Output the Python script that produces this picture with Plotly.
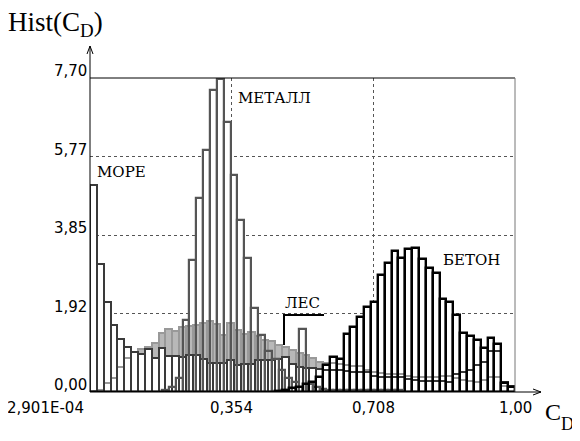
import numpy as np
import plotly.graph_objects as go

# ---------------- data ----------------
N_BINS = 62
CD_MAX = 1.06  # right end of the C_D axis

more = [5.07, 3.14, 2.20, 1.64, 1.30, 1.10, 0.98, 0.92, 1.05, 0.83,
        1.08, 0.88, 0.88, 0.86, 0.90, 0.90, 0.82, 0.72, 0.72, 0.72,
        0.78, 0.66, 0.68, 0.68, 0.78, 0.78, 0.78, 0.80, 0.85, 0.68,
        0.62, 0.60, 0.58, 0.56, 0.55, 0.55, 0.55, 0.52, 0.50, 0.50,
        0.48, 0.40, 0.37, 0.37, 0.37, 0.37, 0.32, 0.30, 0.28, 0.27,
        0.28, 0.27, 0.25, 0.45, 0.48, 0.55, 0.65, 0.73, 1.00, 1.00,
        0.25, 0.15]

les = [0.02, 0.05, 0.22, 0.34, 0.61, 0.83, 0.98, 1.05, 1.10, 1.20,
       1.45, 1.55, 1.50, 1.60, 1.63, 1.65, 1.70, 1.74, 1.66, 1.40,
       1.68, 1.52, 1.42, 1.48, 1.38, 1.28, 1.25, 1.15, 1.10, 1.03,
       0.95, 0.90, 0.83, 0.74, 0.71, 0.70, 0.68, 0.65, 0.63, 0.63,
       0.55, 0.50, 0.47, 0.45, 0.45, 0.43, 0.40, 0.38, 0.37, 0.37,
       0.38, 0.40, 0.40, 0.35, 0.30, 0.28, 0.25, 0.30, 0.37, 0.37,
       0.15, 0.15]

metall = [0, 0, 0, 0, 0, 0, 0, 0, 0, 0,
          0.05, 0.12, 0.35, 1.76, 3.24, 4.75, 5.93, 7.40, 7.67, 6.62,
          5.32, 4.22, 3.28, 2.07, 1.40, 1.00, 0.80, 0.55, 0.35, 0.25,
          1.55, 0.20, 0.12, 0.08, 0.06, 0.05, 0.05, 0.05, 0.05, 0.05,
          0.05, 0.05, 0.05, 0.05, 0.05, 0, 0, 0, 0, 0,
          0, 0, 0, 0, 0, 0, 0, 0, 0, 0,
          0, 0]

beton = [0, 0, 0, 0, 0, 0, 0, 0, 0, 0,
         0, 0, 0, 0, 0, 0, 0, 0, 0, 0,
         0, 0, 0, 0, 0, 0, 0, 0.03, 0.05, 0.10,
         0.12, 0.20, 0.25, 0.37, 0.65, 0.85, 0.80, 1.42, 1.59, 1.84,
         2.08, 2.20, 2.87, 3.16, 3.46, 3.28, 3.50, 3.53, 3.26, 3.04,
         2.92, 2.28, 2.20, 1.89, 1.45, 1.37, 1.27, 1.08, 1.32, 1.18,
         0.22, 0.12]

y_tick_vals = [0.00, 1.92, 3.85, 5.77, 7.70]
y_tick_text = ["0,00", "1,92", "3,85", "5,77", "7,70"]
x_tick_vals = [0.00029, 0.354, 0.708, CD_MAX]
x_tick_text = ["2,901E-04", "0,354", "0,708", "1,00"]

# ---------------- layout geometry (page pixels) ----------------
PAGE_W, PAGE_H = 580, 441
BODY_MARGIN = 8          # default page margin around the plot div
L, T, PW, PH = 90, 78, 425, 314   # plot area on the page
W_FIG, H_FIG = PAGE_W - BODY_MARGIN, PAGE_H - BODY_MARGIN


def px(xp):
    return (xp - L) / PW


def py(yp):
    return (T + PH - yp) / PH


bw = CD_MAX / N_BINS
centers = (np.arange(N_BINS) + 0.5) * bw

C_MORE = "#3a3a3a"
C_MET = "#555555"
C_LES = "#999999"
C_LES_FILL = "#b8b8b8"
C_BET = "#000000"

fig = go.Figure()


def fill_bar(vals, color, offset=None):
    kw = dict(x=centers, y=vals, width=bw, marker=dict(color=color, line=dict(width=0)),
              hoverinfo="skip", showlegend=False)
    if offset is not None:
        kw["offset"] = offset
    fig.add_trace(go.Bar(**kw))


def line_bar(vals, color, lw, offset=None):
    kw = dict(x=centers, y=vals, width=bw,
              marker=dict(color="rgba(0,0,0,0)", line=dict(color=color, width=lw)),
              hoverinfo="skip", showlegend=False)
    if offset is not None:
        kw["offset"] = offset
    fig.add_trace(go.Bar(**kw))


# fills (painting order)
fill_bar(metall, "white", offset=0)
fill_bar(les, C_LES_FILL)
fill_bar(more, "white")
fill_bar(beton, "white")
# outlines
line_bar(les, C_LES, 2)
line_bar(more, C_MORE, 2)
line_bar(metall, C_MET, 2.2, offset=0)
line_bar(beton, C_BET, 2.4)

tick_font = dict(family="DejaVu Sans", size=15, color="black")
SERIF = "Liberation Serif, DejaVu Serif, serif"
SERIF_CYR = "DejaVu Serif, Liberation Serif, serif"

fig.update_layout(
    width=W_FIG, height=H_FIG,
    margin=dict(l=L - BODY_MARGIN, r=PAGE_W - L - PW, t=T - BODY_MARGIN,
                b=PAGE_H - T - PH, pad=0),
    paper_bgcolor="white", plot_bgcolor="white",
    barmode="overlay", bargap=0,
    xaxis=dict(range=[0, CD_MAX], tickvals=x_tick_vals[1:3], showticklabels=False,
               showgrid=True, gridcolor="#555555", gridwidth=1, griddash="dot",
               zeroline=False, showline=False, ticks=""),
    yaxis=dict(range=[0, 7.70], tickvals=y_tick_vals,
               showticklabels=False,
               showgrid=True, gridcolor="#555555", gridwidth=1, griddash="dot",
               zeroline=False, showline=False, ticks=""),
)

shapes = []
# top solid line and right border
shapes.append(dict(type="line", xref="paper", yref="paper", x0=0, x1=1, y0=1, y1=1,
                   line=dict(color="black", width=1)))
shapes.append(dict(type="line", xref="paper", yref="paper", x0=1, x1=1, y0=0, y1=1,
                   line=dict(color="#777777", width=1)))
# axis lines with arrows
shapes.append(dict(type="line", xref="paper", yref="paper", x0=0, x1=0, y0=0, y1=py(46),
                   line=dict(color="black", width=1)))
shapes.append(dict(type="line", xref="paper", yref="paper", x0=0, x1=px(541), y0=0, y1=0,
                   line=dict(color="black", width=1)))
shapes.append(dict(type="path", xref="paper", yref="paper",
                   path=f"M{px(87)},{py(54)} L{px(90)},{py(46)} L{px(93)},{py(54)}",
                   line=dict(color="black", width=1)))
shapes.append(dict(type="path", xref="paper", yref="paper",
                   path=f"M{px(533)},{py(389)} L{px(541)},{py(392)} L{px(533)},{py(395)}",
                   line=dict(color="black", width=1)))
# leader line for ЛЕС
shapes.append(dict(type="path", xref="paper", yref="paper",
                   path=f"M{px(284)},{py(345)} L{px(284)},{py(315)} L{px(324)},{py(315)}",
                   line=dict(color="black", width=2)))
fig.update_layout(shapes=shapes)

ann = []
# y tick labels (sit just above their grid line)
for v, t in zip(y_tick_vals, y_tick_text):
    ann.append(dict(x=0, xref="paper", y=v, yref="y", text=t, showarrow=False,
                    xanchor="right", yanchor="middle", xshift=-1, yshift=7,
                    font=tick_font))
# x tick labels
for i, (v, t) in enumerate(zip(x_tick_vals, x_tick_text)):
    ann.append(dict(x=v, xref="x", y=0, yref="paper", text=t, showarrow=False,
                    xanchor="right" if i == 0 else "center", yanchor="middle",
                    xshift=-4 if i == 0 else 0, yshift=-16, font=tick_font))

ann.append(dict(x=px(6), y=py(24), xref="paper", yref="paper", text="Hist(C<sub>D</sub>)",
                showarrow=False, xanchor="left", yanchor="middle",
                font=dict(family=SERIF, size=27, color="black")))
# axis name C_D at the end of the x axis
ann.append(dict(x=px(543), y=py(412), xref="paper", yref="paper", text="C",
                showarrow=False, xanchor="left", yanchor="middle",
                font=dict(family=SERIF, size=24, color="black")))
ann.append(dict(x=px(559), y=py(424), xref="paper", yref="paper", text="D",
                showarrow=False, xanchor="left", yanchor="middle",
                font=dict(family=SERIF, size=18, color="black")))
labels = [("МОРЕ", 95, 172), ("МЕТАЛЛ", 236, 98), ("БЕТОН", 441, 260), ("ЛЕС", 283, 303)]
for text, xp, yp in labels:
    ann.append(dict(x=px(xp), y=py(yp), xref="paper", yref="paper", text=text,
                    showarrow=False, xanchor="left", yanchor="middle",
                    font=dict(family=SERIF_CYR, size=15, color="black")))
fig.update_layout(annotations=ann)

fig.write_html("out.html")
